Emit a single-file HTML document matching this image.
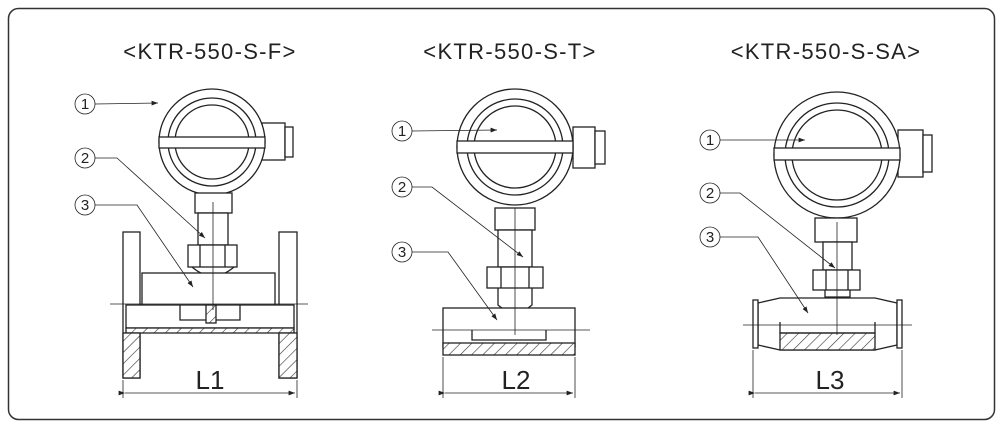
<!DOCTYPE html>
<html><head><meta charset="utf-8"><style>
html,body{margin:0;padding:0;background:#fff;}
svg{display:block;}
text{font-family:"Liberation Sans",sans-serif;fill:#222;}
</style></head><body>
<svg width="1003" height="429" viewBox="0 0 1003 429" xmlns="http://www.w3.org/2000/svg">
<defs>
<pattern id="h" width="8" height="8" patternUnits="userSpaceOnUse" patternTransform="rotate(45)">
<rect width="8" height="8" fill="#fff"/><line x1="0" y1="0" x2="0" y2="8" stroke="#333" stroke-width="1.2"/></pattern>
<marker id="a" markerWidth="8" markerHeight="6" refX="8" refY="3" orient="auto"><path d="M0,0 L8,3 L0,6 z" fill="#222"/></marker>
</defs>
<rect x="8.5" y="8.5" width="986" height="411" rx="10" fill="#fff" stroke="#333" stroke-width="1.5"/>
<g font-size="22" text-anchor="middle" letter-spacing="1.3">
<text x="210" y="59">&lt;KTR-550-S-F&gt;</text>
<text x="510" y="59">&lt;KTR-550-S-T&gt;</text>
<text x="826" y="59">&lt;KTR-550-S-SA&gt;</text>
</g>

<!-- Drawing 1 -->
<g fill="none" stroke="#222" stroke-width="1.3">
<rect x="262" y="123" width="23" height="37" fill="#fff"/><rect x="285" y="127" width="8" height="30" fill="#fff"/>
<circle cx="212" cy="142" r="53" fill="#fff"/>
<circle cx="212" cy="142" r="44"/><circle cx="212" cy="142" r="37"/>
<rect x="159" y="137" width="106" height="11" fill="#fff"/>
<rect x="195" y="193" width="37" height="20" fill="#fff"/>
<rect x="198" y="213" width="30" height="32" fill="#fff"/>
<path d="M192,267 Q213,285 234,267" fill="#fff"/>
<rect x="188" y="245" width="49" height="22" fill="#fff"/><line x1="200" y1="245" x2="200" y2="267"/><line x1="225" y1="245" x2="225" y2="267"/>
<rect x="142" y="273" width="133" height="32" fill="#fff"/>
<rect x="123" y="232" width="17" height="146" fill="#fff"/><rect x="279" y="232" width="18" height="146" fill="#fff"/>
<rect x="126" y="305" width="168" height="23" fill="#fff"/>
<rect x="126" y="328" width="168" height="5" fill="url(#h)"/>
<rect x="123" y="333" width="17" height="45" fill="url(#h)"/><rect x="279" y="333" width="18" height="45" fill="url(#h)"/>
<path d="M180,305 L180,320 L240,320 L240,305"/><rect x="206" y="305" width="10" height="18" fill="url(#h)"/>
</g>
<g stroke="#222" stroke-width="0.8" fill="none">
<line x1="110" y1="304" x2="308" y2="304"/><line x1="213" y1="202" x2="213" y2="310"/>
<line x1="123" y1="380" x2="123" y2="398"/><line x1="297" y1="380" x2="297" y2="398"/>
<line x1="125" y1="393" x2="295" y2="393" marker-end="url(#a)" marker-start="url(#a)"/>
<circle cx="85" cy="104" r="10"/><line x1="95" y1="104" x2="158" y2="103" marker-end="url(#a)"/>
<circle cx="85" cy="158" r="10"/><polyline points="95,158 117,158 205,238" marker-end="url(#a)"/>
<circle cx="85" cy="205" r="10"/><polyline points="95,205 137,205 193,287" marker-end="url(#a)"/>
</g>
<g font-size="15" text-anchor="middle"><text x="85" y="109">1</text><text x="85" y="163">2</text><text x="85" y="210">3</text></g>
<text x="210" y="389" font-size="26" text-anchor="middle">L1</text>

<!-- Drawing 2 -->
<g fill="none" stroke="#222" stroke-width="1.3">
<rect x="573" y="127" width="22" height="41" fill="#fff"/><rect x="595" y="131" width="10" height="33" fill="#fff"/>
<circle cx="515" cy="147" r="58" fill="#fff"/>
<circle cx="515" cy="147" r="48"/><circle cx="515" cy="147" r="41"/>
<rect x="457" y="141" width="116" height="12" fill="#fff"/>
<rect x="495" y="208" width="40" height="22" fill="#fff"/>
<rect x="498" y="230" width="34" height="37" fill="#fff"/>
<path d="M498,288 L498,305 Q515,320 532,305 L532,288" fill="#fff"/>
<rect x="487" y="267" width="56" height="21" fill="#fff"/><line x1="501" y1="267" x2="501" y2="288"/><line x1="529" y1="267" x2="529" y2="288"/>
<rect x="443" y="308" width="132" height="39" fill="#fff"/>
<rect x="443" y="343" width="132" height="12" fill="url(#h)"/>
<path d="M472,330 L472,340 L546,340 L546,330"/>
</g>
<g stroke="#222" stroke-width="0.8" fill="none">
<line x1="432" y1="330" x2="590" y2="330"/><line x1="515" y1="208" x2="515" y2="335"/>
<line x1="443" y1="357" x2="443" y2="398"/><line x1="575" y1="357" x2="575" y2="398"/>
<line x1="445" y1="393" x2="573" y2="393" marker-end="url(#a)" marker-start="url(#a)"/>
<circle cx="402" cy="131" r="10"/><line x1="412" y1="131" x2="497" y2="130" marker-end="url(#a)"/>
<circle cx="402" cy="187" r="10"/><polyline points="412,187 432,187 523,257" marker-end="url(#a)"/>
<circle cx="402" cy="252" r="10"/><polyline points="412,252 448,252 497,320" marker-end="url(#a)"/>
</g>
<g font-size="15" text-anchor="middle"><text x="402" y="136">1</text><text x="402" y="192">2</text><text x="402" y="257">3</text></g>
<text x="516" y="389" font-size="26" text-anchor="middle">L2</text>

<!-- Drawing 3 -->
<g fill="none" stroke="#222" stroke-width="1.3">
<rect x="898" y="130" width="25" height="47" fill="#fff"/><rect x="923" y="135" width="9" height="37" fill="#fff"/>
<circle cx="837" cy="155" r="63" fill="#fff"/>
<circle cx="837" cy="155" r="52"/><circle cx="837" cy="155" r="45"/>
<rect x="774" y="148" width="126" height="12" fill="#fff"/>
<rect x="815" y="218" width="42" height="24" fill="#fff"/>
<rect x="823" y="242" width="29" height="28" fill="#fff"/>
<path d="M825,290 L825,297 L850,297 L850,290" fill="#fff"/>
<rect x="813" y="270" width="47" height="20" fill="#fff"/><line x1="826" y1="270" x2="826" y2="290"/><line x1="848" y1="270" x2="848" y2="290"/>
<path d="M758,303 L780,298 L875,298 L897,303 L897,345 L875,350 L780,350 L758,345 Z" fill="#fff"/>
<rect x="753" y="300" width="5" height="48" fill="#fff"/><rect x="897" y="300" width="5" height="48" fill="#fff"/>
<rect x="780" y="333" width="95" height="17" fill="url(#h)"/>
<path d="M780,322 L780,333 L875,333 L875,322"/>
</g>
<g stroke="#222" stroke-width="0.8" fill="none">
<line x1="743" y1="325" x2="912" y2="325"/><line x1="837" y1="222" x2="837" y2="335"/>
<line x1="753" y1="350" x2="753" y2="398"/><line x1="902" y1="350" x2="902" y2="398"/>
<line x1="755" y1="393" x2="900" y2="393" marker-end="url(#a)" marker-start="url(#a)"/>
<circle cx="710" cy="140" r="10"/><line x1="720" y1="140" x2="805" y2="140" marker-end="url(#a)"/>
<circle cx="710" cy="193" r="10"/><polyline points="720,193 740,193 835,268" marker-end="url(#a)"/>
<circle cx="710" cy="237" r="10"/><polyline points="720,237 758,237 808,313" marker-end="url(#a)"/>
</g>
<g font-size="15" text-anchor="middle"><text x="710" y="145">1</text><text x="710" y="198">2</text><text x="710" y="242">3</text></g>
<text x="830" y="389" font-size="26" text-anchor="middle">L3</text>
</svg>
</body></html>
